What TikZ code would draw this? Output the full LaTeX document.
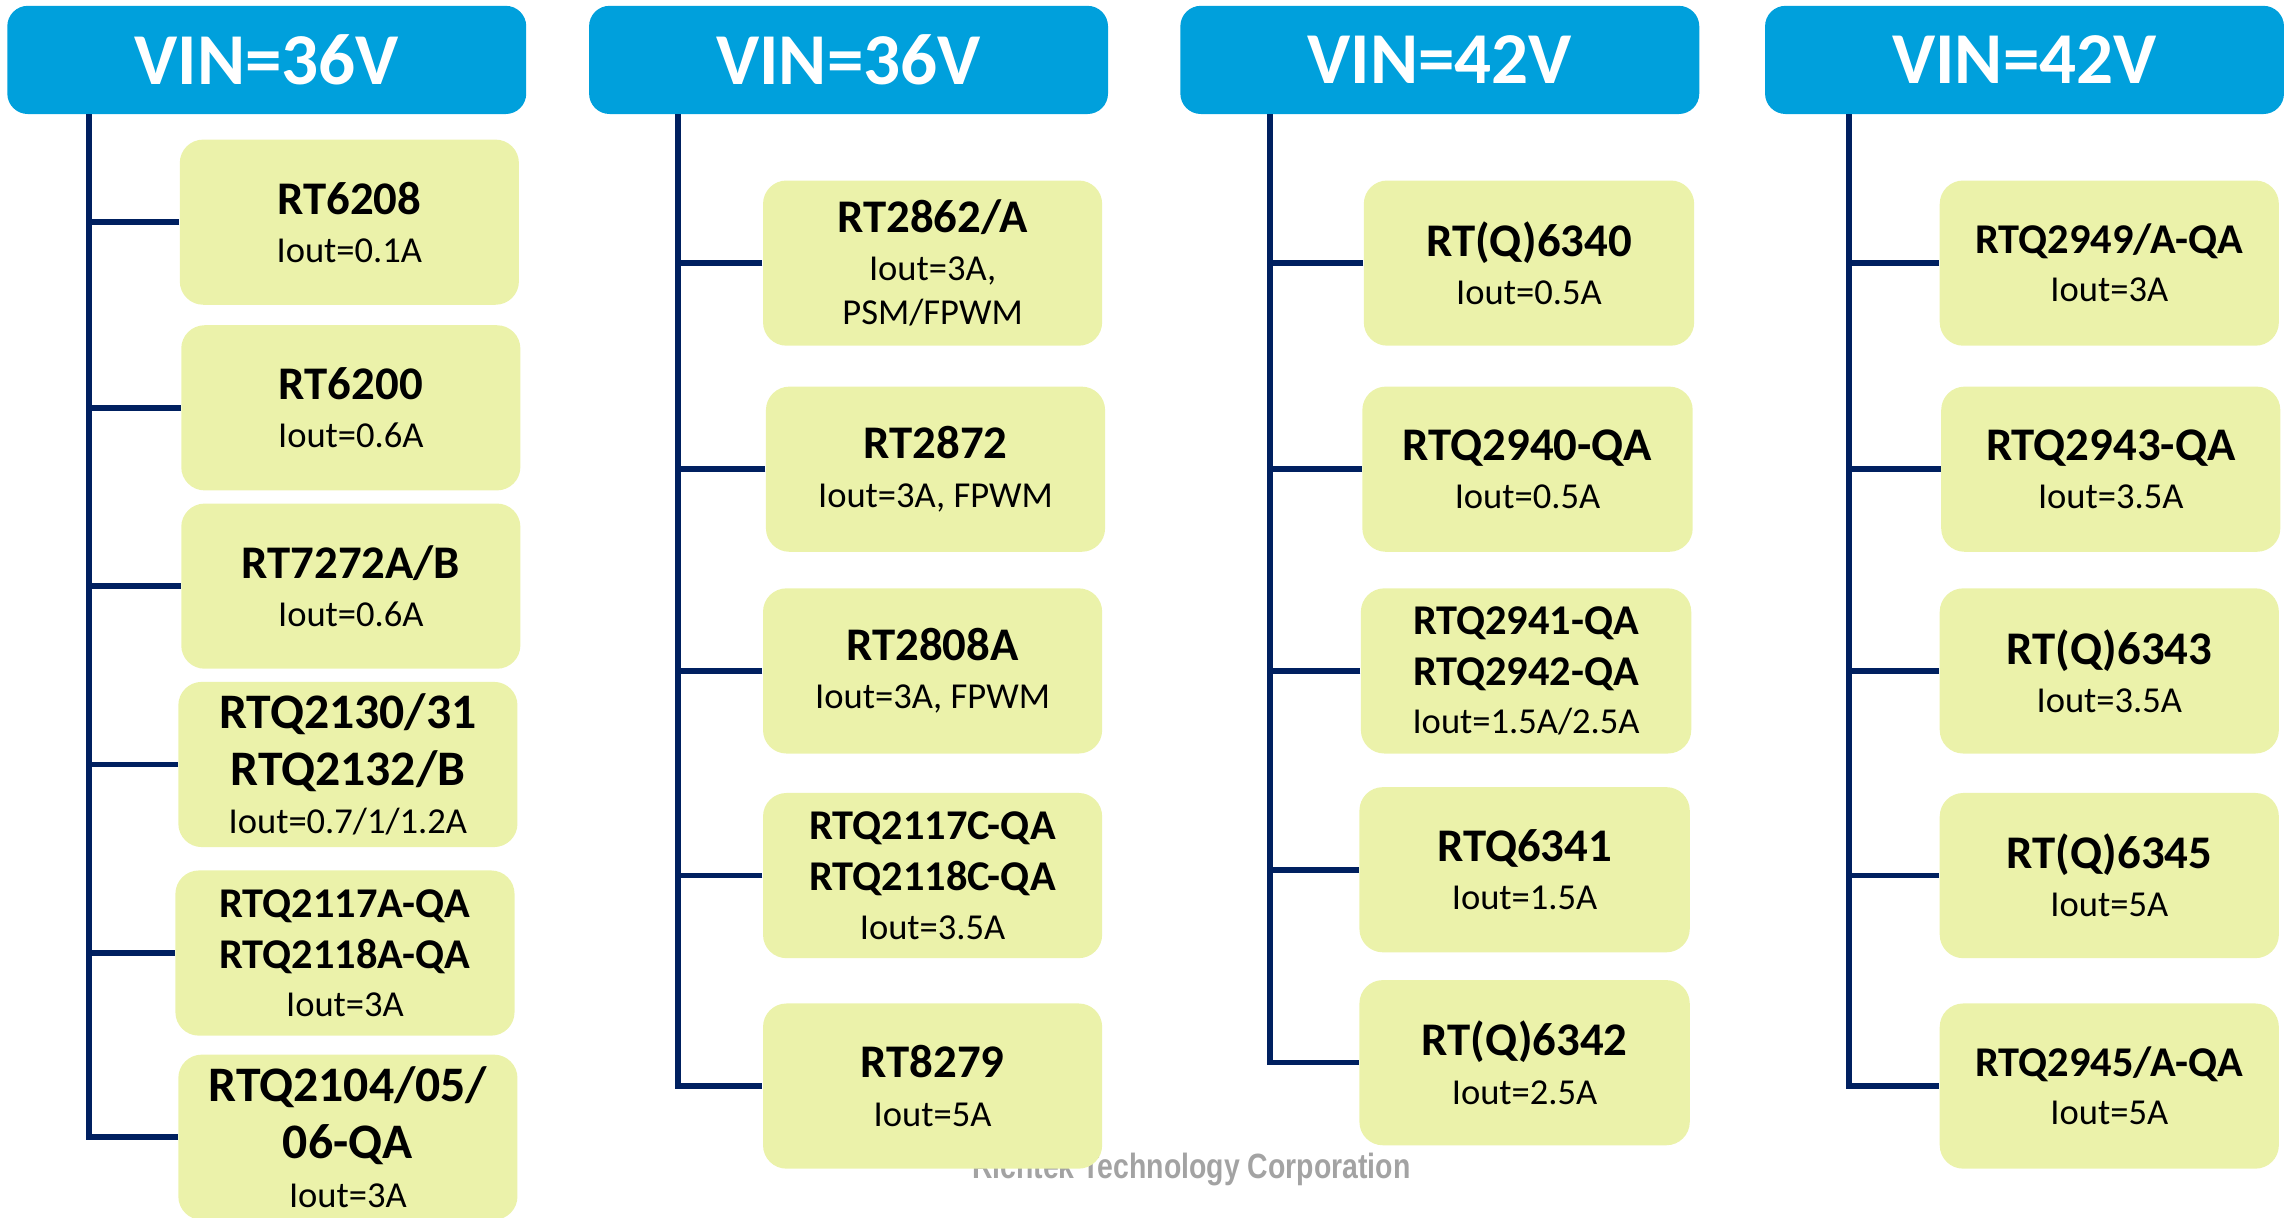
\documentclass[tikz,border=0pt]{standalone}
\usepackage{fontspec}
\setmainfont{Carlito}
\newfontfamily\wmfont{Liberation Sans}
\definecolor{hdrblue}{HTML}{00A0DC}
\definecolor{partfill}{HTML}{EBF2AA}
\definecolor{trunkblue}{HTML}{002060}
\definecolor{wmgray}{HTML}{A3A3A3}
\newcommand{\pname}[2][16]{{\fontsize{#1}{#1}\selectfont\bfseries #2}}

\begin{document}
\begin{tikzpicture}[
  x=0.5pt,y=-0.5pt,
  hdr/.style={rounded corners=7pt, fill=hdrblue, text=white, font=\fontsize{25}{30}\selectfont\bfseries, minimum width=177.5pt, minimum height=37pt, inner sep=0pt},
  part/.style={rounded corners=8pt, fill=partfill, align=center, font=\fontsize{12.5}{16.5}\selectfont, minimum width=116pt, minimum height=56.5pt, inner sep=0pt},
  trunk/.style={draw=trunkblue, line width=1.9pt},
  wmark/.style={font=\wmfont\bfseries\fontsize{12}{14}\selectfont, text=wmgray, inner sep=0pt},
]
\useasboundingbox (0,0) rectangle (1568,833);
% watermark, partly hidden behind the boxes
\node[wmark,anchor=base] (wm) at (815,806) {\scalebox{0.81}[1]{Richtek Technology Corporation}};
% headers
\node[hdr] (h1) at (182.5,41) {VIN=36V};
\node[hdr] (h2) at (580.5,41) {VIN=36V};
\node[hdr] (h3) at (985,41) {VIN=42V};
\node[hdr] (h4) at (1385,41) {VIN=42V};
\coordinate (t1) at (61,78);
\coordinate (t2) at (464,78);
\coordinate (t3) at (869,78);
\coordinate (t4) at (1265,78);
% first column
\node[part] (b11) at (239,152) {\pname{RT6208}\\Iout=0.1A};
\node[part] (b12) at (240,279) {\pname{RT6200}\\Iout=0.6A};
\node[part] (b13) at (240,401) {\pname{RT7272A/B}\\Iout=0.6A};
\node[part] (b14) at (238,523) {\pname[17]{RTQ2130/31}\\[3pt]\pname[17]{RTQ2132/B}\\Iout=0.7/1/1.2A};
\node[part] (b15) at (236,652) {\pname[14.5]{RTQ2117A-QA}\\[1pt]\pname[14.5]{RTQ2118A-QA}\\Iout=3A};
\node[part] (b16) at (238,778) {\pname[17]{RTQ2104/05/}\\[3pt]\pname[17]{06-QA}\\Iout=3A};
% second column
\node[part] (b21) at (638,180) {\pname{RT2862/A}\\Iout=3A,\\[-1.5pt]PSM/FPWM};
\node[part] (b22) at (640,321) {\pname{RT2872}\\Iout=3A, FPWM};
\node[part] (b23) at (638,459) {\pname{RT2808A}\\Iout=3A, FPWM};
\node[part] (b24) at (638,599) {\pname[14.5]{RTQ2117C-QA}\\[1pt]\pname[14.5]{RTQ2118C-QA}\\Iout=3.5A};
\node[part] (b25) at (638,743) {\pname{RT8279}\\Iout=5A};
% third column
\node[part,minimum width=113pt] (b31) at (1046,180) {\pname{RT(Q)6340}\\Iout=0.5A};
\node[part,minimum width=113pt] (b32) at (1045,321) {\pname{RTQ2940-QA}\\Iout=0.5A};
\node[part,minimum width=113pt] (b33) at (1044,459) {\pname[14.5]{RTQ2941-QA}\\[1pt]\pname[14.5]{RTQ2942-QA}\\Iout=1.5A/2.5A};
\node[part,minimum width=113pt] (b34) at (1043,595) {\pname{RTQ6341}\\Iout=1.5A};
\node[part,minimum width=113pt] (b35) at (1043,727) {\pname{RT(Q)6342}\\Iout=2.5A};
% fourth column
\node[part] (b41) at (1443,180) {\pname[14.5]{RTQ2949/A-QA}\\Iout=3A};
\node[part] (b42) at (1444,321) {\pname{RTQ2943-QA}\\Iout=3.5A};
\node[part] (b43) at (1443,459) {\pname{RT(Q)6343}\\Iout=3.5A};
\node[part] (b44) at (1443,599) {\pname{RT(Q)6345}\\Iout=5A};
\node[part] (b45) at (1443,743) {\pname[14.5]{RTQ2945/A-QA}\\Iout=5A};
% trunks and branches
\draw[trunk] (t1) |- (b16.west);
\draw[trunk] (b11.west) -- (b11.west -| t1);
\draw[trunk] (b12.west) -- (b12.west -| t1);
\draw[trunk] (b13.west) -- (b13.west -| t1);
\draw[trunk] (b14.west) -- (b14.west -| t1);
\draw[trunk] (b15.west) -- (b15.west -| t1);
\draw[trunk] (t2) |- (b25.west);
\draw[trunk] (b21.west) -- (b21.west -| t2);
\draw[trunk] (b22.west) -- (b22.west -| t2);
\draw[trunk] (b23.west) -- (b23.west -| t2);
\draw[trunk] (b24.west) -- (b24.west -| t2);
\draw[trunk] (t3) |- (b35.west);
\draw[trunk] (b31.west) -- (b31.west -| t3);
\draw[trunk] (b32.west) -- (b32.west -| t3);
\draw[trunk] (b33.west) -- (b33.west -| t3);
\draw[trunk] (b34.west) -- (b34.west -| t3);
\draw[trunk] (t4) |- (b45.west);
\draw[trunk] (b41.west) -- (b41.west -| t4);
\draw[trunk] (b42.west) -- (b42.west -| t4);
\draw[trunk] (b43.west) -- (b43.west -| t4);
\draw[trunk] (b44.west) -- (b44.west -| t4);
\end{tikzpicture}
\end{document}
